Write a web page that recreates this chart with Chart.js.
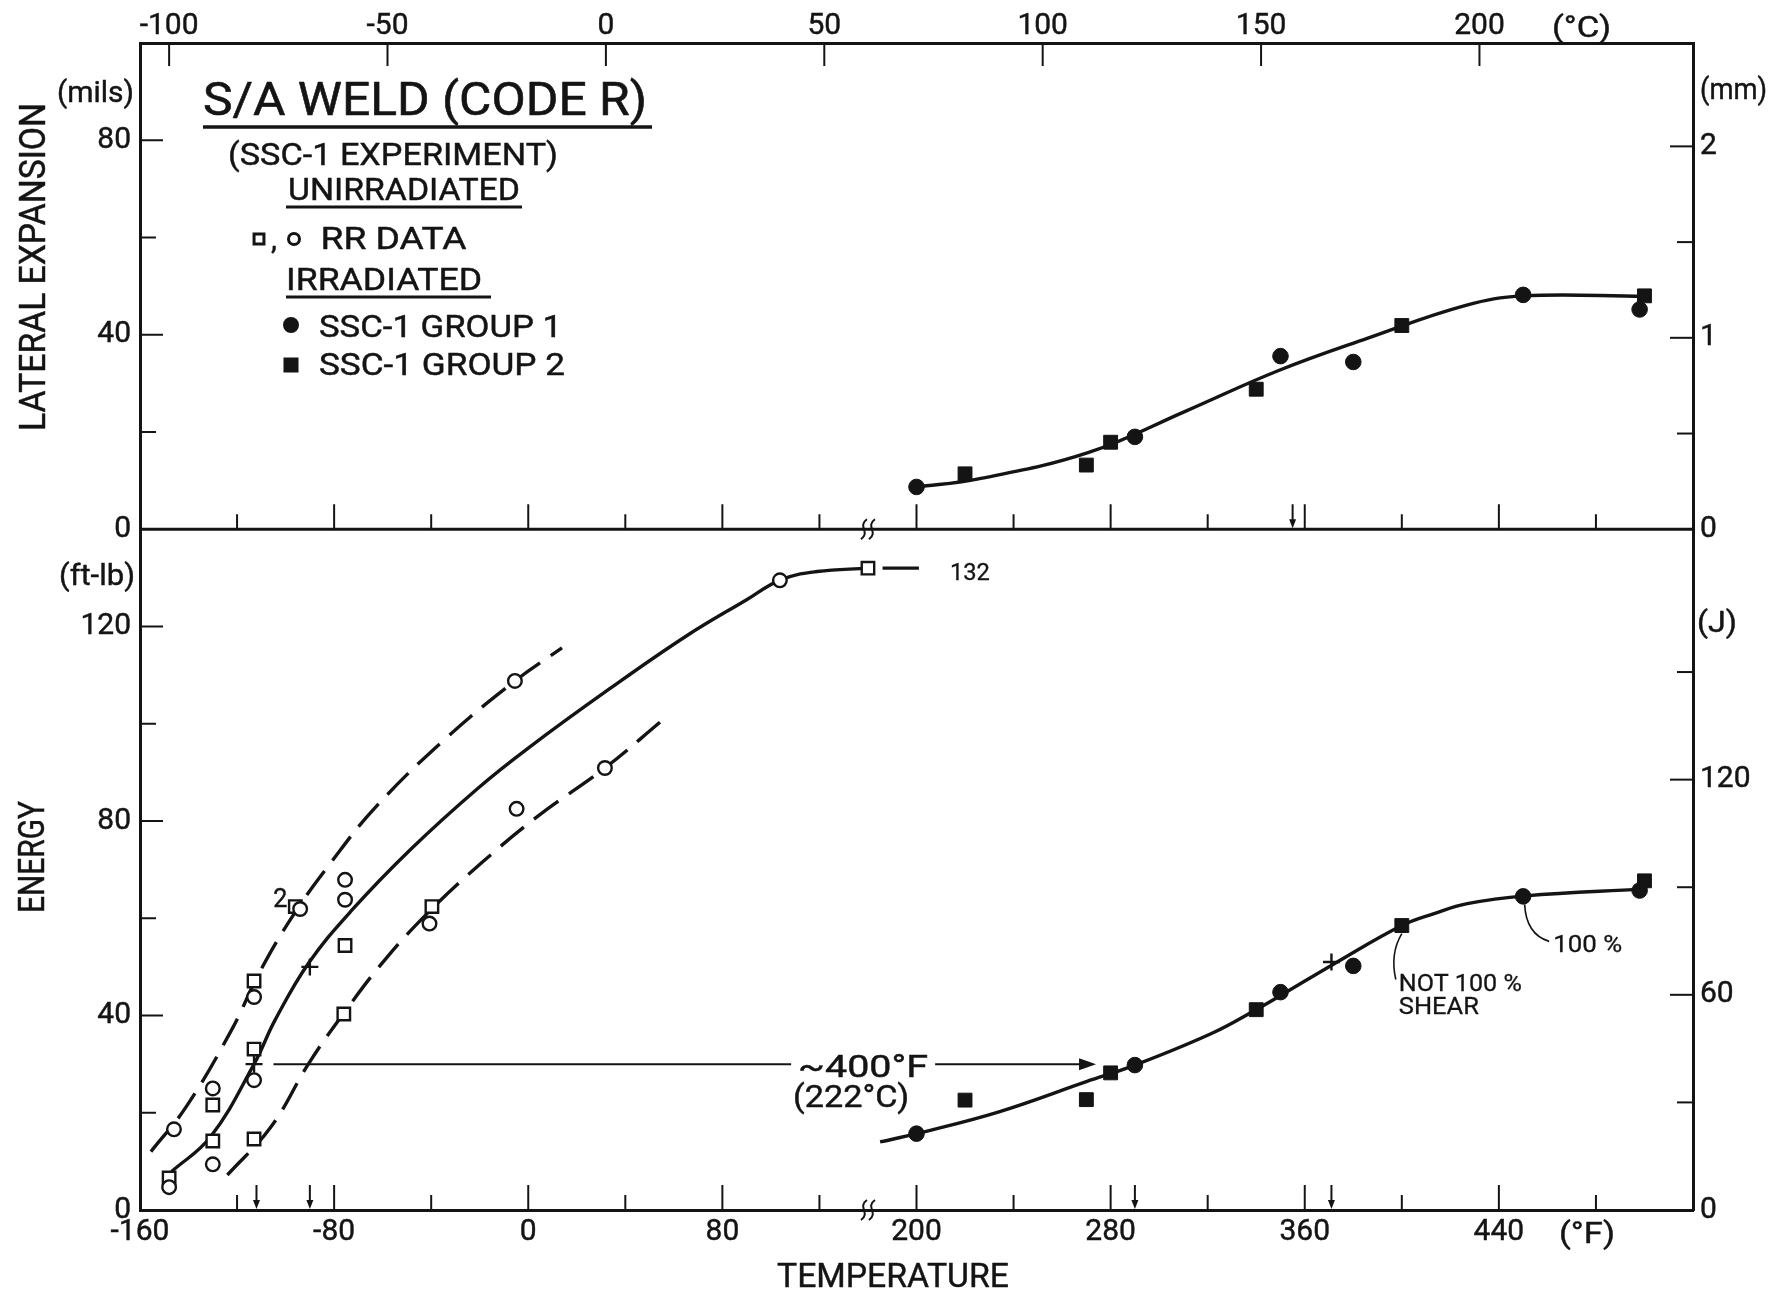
<!DOCTYPE html>
<html lang="en">
<head>
<meta charset="utf-8">
<title>S/A Weld (Code R) – Charpy impact results</title>
<script src="https://cdn.jsdelivr.net/npm/chart.js@4/dist/chart.umd.min.js"></script>
<style>
  html, body { margin: 0; padding: 0; background: #fff; }
  canvas { display: block; }
</style>
</head>
<body>
<canvas id="chart" width="1790" height="1293"></canvas>
<script>
const FONT = "Roboto, 'Open Sans', 'Liberation Sans', sans-serif";
const INK = '#141414';

// ---------------------------------------------------------------
// Temperature axis (°F) is broken just above 120 °F: readings from
// 200 °F upward are plotted 40 °F to the left of a continuous scale.
// ---------------------------------------------------------------
const BREAK_F = 160;      // readings above this lie on the right-hand segment
const BREAK_SHIFT = 40;   // °F removed by the break
const BREAK_AT = 140;     // where the break symbol sits on the axis
const axisT = f => (f <= BREAK_F ? f : f - BREAK_SHIFT);
const fromAxis = u => (u > BREAK_AT ? u + BREAK_SHIFT : u);

// Tick labels
const tempLabelsF = [-160, -80, 0, 80, 200, 280, 360, 440];
const celsiusLabels = [-100, -50, 0, 50, 100, 150, 200];
const milsLabels = [0, 40, 80];
const mmLabels = [0, 1, 2];
const ftlbLabels = [0, 40, 80, 120];
const jouleLabels = [0, 60, 120];

// Unirradiated round-robin (RR) data, Charpy energy (ft-lb)
const rrCircleTemp   = [-148, -146, -130, -130, -113, -113, -94, -75.5, -75.5, -40.7, -5.5, -4.8, 31.6, 103.7];
const rrCircleEnergy = [4.7, 16.6, 25, 9.4, 43.8, 26.7, 61.9, 67.9, 63.8, 58.9, 108.8, 82.5, 90.9, 129.5];
const rrSquareTemp   = [-148, -130, -130, -113, -113, -113, -96, -75.5, -76, -39.7, 140];
const rrSquareEnergy = [6.6, 21.6, 14.2, 47.1, 33.1, 14.6, 62.4, 54.4, 40.3, 62.4, 132];

// Irradiated SSC-1 specimens
const g1Temp      = [200, 290, 350, 380, 450, 498];
const g1Energy    = [15.7, 29.8, 44.8, 50.2, 64.5, 65.7];
const g1Expansion = [8.7, 19.0, 35.6, 34.4, 48.2, 45.2];
const g2Temp      = [220, 270, 280, 340, 400, 500];
const g2Energy    = [22.6, 22.7, 28.2, 41.2, 58.5, 67.7];
const g2Expansion = [11.4, 13.2, 17.9, 28.8, 41.9, 48.0];

// Faired curves
const rrMeanTemp    = [-147, -131, -113, -104.4, -90.5, -72.8, -48.2, -20.6, 0, 33, 65, 90, 104, 119, 140];
const rrMeanEnergy  = [7.9, 15, 30, 39, 50.8, 61.6, 74.3, 86.8, 95, 107, 118, 125.5, 129.6, 131.3, 132];
const rrUpperTemp   = [-155.5, -141, -122.3, -110.3, -96.5, -81.7, -63, -34.4, -5.5, 13.9];
const rrUpperEnergy = [12, 21.2, 37, 49.3, 60.9, 71.2, 82.8, 96.8, 108.8, 115.6];
const rrLowerTemp   = [-124, -106, -90.5, -76, -59, -40, -19, 4, 31.6, 55];
const rrLowerEnergy = [7.2, 17.1, 30.1, 40.5, 51.5, 61.8, 71.5, 81, 90.9, 100.6];
const shelfTemp     = [186, 201];
const shelfEnergy   = [132, 132];
const irrFitTemp    = [185, 200, 234, 270, 290, 322, 341, 351, 372, 400, 413, 427, 451, 499];
const irrFitEnergy  = [14, 15.7, 20.2, 26.4, 29.8, 36.4, 41.5, 44.4, 50.6, 58.5, 60.9, 63, 64.6, 66];
const irrLeTemp     = [200, 225, 271, 311, 349, 386, 426, 450, 500];
const irrLeMils     = [8.7, 10.3, 15.8, 24.3, 32.6, 39.3, 46, 48, 47.9];

// 30 / 50 ft-lb crossing marks
const crossTemp   = [-113, -90, 371];
const crossEnergy = [30, 50, 51];

// Transition-temperature arrows on the axes
const energyArrowTemp  = [-112, -90, 290, 371];
const lateralArrowTemp = [355];

// 30 ft-lb shift
const shiftEnergy = 30, shiftFrom = -105, shiftTo = 274, shiftLabelAt = 138;

// ---------------------------------------------------------------
const pts = (xs, ys) => xs.map((f, i) => ({ x: axisT(f), y: ys[i] }));
const set = (data, yAxisID, extra) => Object.assign({ data, xAxisID: 'x', yAxisID }, extra);
const curve = {
  showLine: true, pointRadius: 0, pointHoverRadius: 0, borderColor: INK, borderWidth: 3.4,
  tension: 0.4, fill: false
};
const dashed = Object.assign({}, curve, { borderDash: [30, 13] });
const filled = (style, r) => ({
  pointStyle: style, pointRadius: r, pointBackgroundColor: INK, pointBorderColor: INK,
  pointBorderWidth: 1, showLine: false
});
const open = (style, r) => ({
  pointStyle: style, pointRadius: r, pointBackgroundColor: '#fff', pointBorderColor: INK,
  pointBorderWidth: 2.4, showLine: false
});

const datasets = [
  set(pts(crossTemp, crossEnergy), 'yE', { pointStyle: 'cross', pointRadius: 8.5, pointBorderColor: INK, pointBorderWidth: 2.4, showLine: false }),
  set(pts(g1Temp, g1Energy), 'yE', filled('circle', 7.8)),
  set(pts(g2Temp, g2Energy), 'yE', filled('rect', 9.8)),
  set(pts(g1Temp, g1Expansion), 'yL', filled('circle', 7.8)),
  set(pts(g2Temp, g2Expansion), 'yL', filled('rect', 9.8)),
  set(pts(rrCircleTemp, rrCircleEnergy), 'yE', open('circle', 6.8)),
  set(pts(rrSquareTemp, rrSquareEnergy), 'yE', open('rect', 8.8)),
  set(pts(rrMeanTemp, rrMeanEnergy), 'yE', curve),
  set(pts(rrUpperTemp, rrUpperEnergy), 'yE', dashed),
  set(pts(rrLowerTemp, rrLowerEnergy), 'yE', dashed),
  set(pts(shelfTemp, shelfEnergy), 'yE', curve),
  set(pts(irrFitTemp, irrFitEnergy), 'yE', curve),
  set(pts(irrLeTemp, irrLeMils), 'yL', curve)
];

// ---------------------------------------------------------------
function seg(ctx, x1, y1, x2, y2, w) {
  ctx.lineWidth = w;
  ctx.beginPath(); ctx.moveTo(x1, y1); ctx.lineTo(x2, y2); ctx.stroke();
}
// y is the centre of the capital letters; text is squeezed to the given width
function label(ctx, str, x, y, size, o = {}) {
  ctx.save();
  ctx.font = `${size}px ${FONT}`;
  ctx.fillStyle = INK;
  ctx.strokeStyle = INK;
  ctx.lineJoin = 'round';
  ctx.textBaseline = 'alphabetic';
  const w = ctx.measureText(str).width;
  const sx = o.width ? o.width / w : 1;
  const align = o.align || 'left';
  ctx.translate(x, y);
  if (o.rotate) ctx.rotate(o.rotate);
  ctx.scale(sx, 1);
  const dx = align === 'left' ? 0 : align === 'center' ? -w / 2 : -w;
  const by = 0.355 * size;
  ctx.fillText(str, dx, by);
  ctx.lineWidth = o.stroke != null ? o.stroke : 0.45;
  if (ctx.lineWidth > 0) ctx.strokeText(str, dx, by);
  ctx.restore();
}
function breakMark(ctx, x, y) {
  ctx.lineWidth = 2;
  [-4, 4].forEach(dx => {
    ctx.beginPath();
    ctx.moveTo(x + dx + 3, y - 10);
    ctx.bezierCurveTo(x + dx - 7, y - 3, x + dx + 7, y + 3, x + dx - 3, y + 10);
    ctx.stroke();
  });
}
function axisArrow(ctx, x, yb) {
  seg(ctx, x, yb - 25, x, yb - 7, 2);
  ctx.beginPath();
  ctx.moveTo(x - 3.5, yb - 10); ctx.lineTo(x + 3.5, yb - 10); ctx.lineTo(x, yb - 1);
  ctx.closePath(); ctx.fill();
}

const decor = {
  id: 'decor',
  afterDraw(chart) {
    const { ctx, chartArea: a, scales: s } = chart;
    const X = f => s.x.getPixelForValue(axisT(f));
    const yMid = s.yL.getPixelForValue(0);
    ctx.save();
    ctx.strokeStyle = INK; ctx.fillStyle = INK; ctx.lineCap = 'butt';

    // divider between the expansion and energy panels
    seg(ctx, a.left, yMid, a.right, yMid, 3);

    // inward tick marks
    s.x.ticks.forEach(t => {
      if (t.value <= s.x.min || t.value >= s.x.max) return;
      const px = s.x.getPixelForValue(t.value);
      const len = t.label ? 25 : 15;
      seg(ctx, px, a.bottom, px, a.bottom - len, 2);
      seg(ctx, px, yMid, px, yMid - len, 2);
    });
    s.xc.ticks.forEach(t => {
      const px = s.xc.getPixelForValue(t.value);
      seg(ctx, px, a.top, px, a.top + 23, 2);
    });
    const yTicks = (sc, x0, dir, maxV) => sc.ticks.forEach(t => {
      if (t.value <= sc.min || t.value > maxV) return;
      const py = sc.getPixelForValue(t.value);
      seg(ctx, x0, py, x0 + dir * (t.label ? 23 : 16), py, 2);
    });
    yTicks(s.yL, a.left, 1, 99);
    yTicks(s.yE, a.left, 1, 139);
    yTicks(s.yMM, a.right, -1, 2.01);
    yTicks(s.yJ, a.right, -1, 151);

    // axis breaks
    const bx = s.x.getPixelForValue(BREAK_AT);
    breakMark(ctx, bx, a.bottom);
    breakMark(ctx, bx, yMid);

    // transition-temperature arrows
    energyArrowTemp.forEach(f => axisArrow(ctx, X(f), a.bottom));
    lateralArrowTemp.forEach(f => axisArrow(ctx, X(f), yMid));

    // 30 ft-lb shift arrow
    const ys = s.yE.getPixelForValue(shiftEnergy);
    const xl = X(shiftLabelAt);
    const x1 = X(shiftFrom), x2 = X(shiftTo);
    seg(ctx, x1, ys, xl - 72, ys, 2);
    seg(ctx, xl + 72, ys, x2 - 12, ys, 2);
    ctx.beginPath();
    ctx.moveTo(x2, ys); ctx.lineTo(x2 - 17, ys - 6); ctx.lineTo(x2 - 17, ys + 6);
    ctx.closePath(); ctx.fill();
    label(ctx, '~400°F', xl, ys + 2, 31, { align: 'center', width: 130 });
    label(ctx, '(222°C)', xl - 12, ys + 32, 31, { align: 'center', width: 116 });

    // upper-shelf value
    label(ctx, '132', X(shelfTemp[1]) + 31, s.yE.getPixelForValue(132) + 3, 24, { width: 40, stroke: 0.3 });

    // multiplicity note on the RR square
    label(ctx, '2', X(-96) - 15, s.yE.getPixelForValue(62.4) - 8, 25, { align: 'center' });

    // shear notes with leaders
    const c100x = X(450), c100y = s.yE.getPixelForValue(64.5);
    ctx.lineWidth = 1.6;
    ctx.beginPath();
    ctx.moveTo(c100x + 1.5, c100y + 8);
    ctx.quadraticCurveTo(c100x + 3, c100y + 38, c100x + 26, c100y + 45);
    ctx.stroke();
    label(ctx, '100 %', c100x + 30, c100y + 47, 24, { width: 69, stroke: 0.3 });

    const nsx = X(400), nsy = s.yE.getPixelForValue(58.5);
    ctx.lineWidth = 1.6;
    ctx.beginPath();
    ctx.moveTo(nsx, nsy + 8);
    ctx.quadraticCurveTo(nsx - 12, nsy + 28, nsx - 6, nsy + 54);
    ctx.stroke();
    label(ctx, 'NOT 100 %', nsx - 3, nsy + 56.5, 24, { width: 123, stroke: 0.3 });
    label(ctx, 'SHEAR', nsx - 3, nsy + 79.5, 24, { width: 80, stroke: 0.3 });

    // title block / key
    label(ctx, 'S/A WELD (CODE R)', 203, 98.5, 46, { width: 444, stroke: 0.6 });
    seg(ctx, 203, 127, 652, 127, 3.5);
    label(ctx, '(SSC-1 EXPERIMENT)', 228, 154, 31, { width: 330 });
    label(ctx, 'UNIRRADIATED', 288, 188.5, 32, { width: 232 });
    seg(ctx, 286, 207, 522, 207, 3);
    ctx.fillStyle = '#fff';
    ctx.strokeStyle = INK;
    Chart.helpers.drawPoint(ctx, { pointStyle: 'rect', radius: 7, borderWidth: 2 }, 259, 239);
    Chart.helpers.drawPoint(ctx, { pointStyle: 'circle', radius: 5.5, borderWidth: 2 }, 294, 239);
    ctx.fillStyle = INK;
    label(ctx, ',', 271, 238, 30);
    label(ctx, 'RR DATA', 320.5, 237.5, 31, { width: 146 });
    label(ctx, 'IRRADIATED', 286, 278.5, 31, { width: 196 });
    seg(ctx, 286, 297, 491, 297, 3);
    ctx.fillStyle = INK;
    Chart.helpers.drawPoint(ctx, { pointStyle: 'circle', radius: 6.5, borderWidth: 1 }, 291, 325);
    label(ctx, 'SSC-1 GROUP 1', 319, 326, 31, { width: 243 });
    ctx.fillStyle = INK;
    Chart.helpers.drawPoint(ctx, { pointStyle: 'rect', radius: 8.5, borderWidth: 1 }, 291, 365);
    label(ctx, 'SSC-1 GROUP 2', 319, 364, 31, { width: 246 });

    // axis titles and units
    label(ctx, '(mils)', 134, 91.5, 30, { align: 'right', width: 77 });
    label(ctx, 'LATERAL EXPANSION', 32, 267, 36, { align: 'center', width: 328, rotate: -Math.PI / 2 });
    label(ctx, '(ft-lb)', 135, 574, 30, { align: 'right', width: 76 });
    label(ctx, 'ENERGY', 31, 857, 36, { align: 'center', width: 112, rotate: -Math.PI / 2 });
    label(ctx, 'TEMPERATURE', 893, 1275, 34, { align: 'center', width: 232 });
    label(ctx, '(mm)', 1700, 88, 30, { width: 67 });
    label(ctx, '(J)', 1697, 621, 30, { width: 40 });
    label(ctx, '(°C)', 1552, 26, 30, { width: 59 });
    label(ctx, '(°F)', 1559, 1232, 30, { width: 56 });

    ctx.restore();
  }
};

// ---------------------------------------------------------------
const tickFont = { family: FONT, size: 30, lineHeight: 1 };
const tickStyle = { font: tickFont, color: INK, textStrokeColor: INK, textStrokeWidth: 0.45, autoSkip: false };
const plainGrid = { display: false, drawTicks: false };
const frame = { display: true, color: INK, width: 3 };
const FT_LB_TO_J = 1.355818;
const MILS_TO_MM = 0.0254;

// Left-hand stacked axes are laid out in reverse order of declaration,
// right-hand ones in declaration order: both put expansion above energy.
new Chart(document.getElementById('chart'), {
  type: 'scatter',
  data: { datasets },
  options: {
    responsive: false,
    animation: false,
    events: [],
    layout: { padding: 0 },
    plugins: { legend: { display: false }, tooltip: { enabled: false } },
    scales: {
      x: {
        type: 'linear', position: 'bottom', min: -160, max: 480,
        grid: plainGrid, border: frame,
        ticks: Object.assign({}, tickStyle, {
          stepSize: 40, maxRotation: 0, minRotation: 0, padding: 7,
          callback: v => (v < 480 && tempLabelsF.includes(fromAxis(v)) ? String(fromAxis(v)) : '')
        }),
        afterFit: sc => { sc.height = 83; }
      },
      xc: {
        type: 'linear', position: 'top',
        min: (-160 - 32) * 5 / 9, max: (480 - 32) * 5 / 9,
        grid: plainGrid, border: frame,
        ticks: Object.assign({}, tickStyle, {
          stepSize: 50, includeBounds: false, maxRotation: 0, padding: 2,
          callback: v => (celsiusLabels.includes(v) ? String(v) : '')
        }),
        afterFit: sc => { sc.height = 43; }
      },
      yE: {
        type: 'linear', position: 'left', stack: 'left', stackWeight: 140, min: 0, max: 140,
        grid: plainGrid, border: frame,
        ticks: Object.assign({}, tickStyle, {
          stepSize: 20, padding: 9,
          callback: v => (ftlbLabels.includes(v) ? String(v) : '')
        }),
        afterFit: sc => { sc.width = 140; }
      },
      yL: {
        type: 'linear', position: 'left', stack: 'left', stackWeight: 100, min: 0, max: 100,
        grid: plainGrid, border: frame,
        ticks: Object.assign({}, tickStyle, {
          stepSize: 20, padding: 9,
          callback: v => (milsLabels.includes(v) ? String(v) : '')
        }),
        afterFit: sc => { sc.width = 140; }
      },
      yMM: {
        type: 'linear', position: 'right', stack: 'right', stackWeight: 100,
        min: 0, max: 100 * MILS_TO_MM,
        grid: plainGrid, border: frame,
        ticks: Object.assign({}, tickStyle, {
          stepSize: 0.5, includeBounds: false, padding: 7,
          callback: v => (mmLabels.includes(v) ? String(v) : '')
        }),
        afterFit: sc => { sc.width = 97; }
      },
      yJ: {
        type: 'linear', position: 'right', stack: 'right', stackWeight: 140,
        min: 0, max: 140 * FT_LB_TO_J,
        grid: plainGrid, border: frame,
        ticks: Object.assign({}, tickStyle, {
          stepSize: 30, includeBounds: false, padding: 7,
          callback: v => (jouleLabels.includes(v) ? String(v) : '')
        }),
        afterFit: sc => { sc.width = 97; }
      }
    }
  },
  plugins: [decor]
});
</script>
</body>
</html>
